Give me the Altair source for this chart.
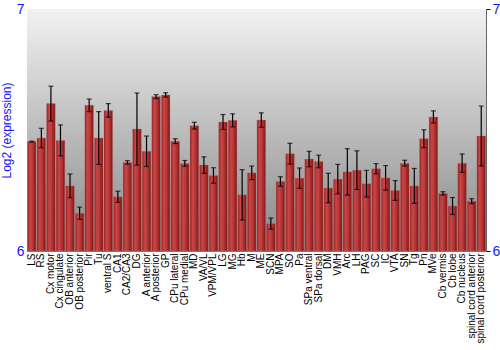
import altair as alt
import pandas as pd

regions = ["LS", "RS", "Cx motor", "Cx cingulate", "OB anterior", "OB posterior", "Pir", "Tu",
           "ventral S", "CA1", "CA2/CA3", "DG", "A anterior", "A posterior", "GP", "CPu lateral",
           "CPu medial", "MD", "VA/VL", "VPM/VPL", "LG", "MG", "Hb", "M", "ME", "SCN", "MPA", "SO",
           "Pa", "SPa ventral", "SPa dorsal", "DM", "VMH", "Arc", "LH", "PAG", "SC", "IC", "VTA",
           "SN", "Tg", "Pn", "MVe", "Cb vermis", "Cb lobe", "Cb nucleus", "spinal cord anterior",
           "spinal cord posterior"]
values = [6.452, 6.467, 6.609, 6.457, 6.269, 6.156, 6.602, 6.467,
          6.581, 6.224, 6.366, 6.504, 6.412, 6.638, 6.645, 6.454,
          6.362, 6.518, 6.355, 6.312, 6.533, 6.540, 6.232, 6.323, 6.541, 6.113, 6.287, 6.402,
          6.301, 6.380, 6.370, 6.260, 6.297, 6.327, 6.334, 6.278, 6.340, 6.302, 6.250,
          6.363, 6.269, 6.464, 6.554, 6.238, 6.186, 6.363, 6.206,
          6.475]
errors = [0.002, 0.040, 0.072, 0.064, 0.049, 0.025, 0.026, 0.109,
          0.028, 0.023, 0.007, 0.149, 0.063, 0.008, 0.009, 0.010,
          0.012, 0.014, 0.034, 0.032, 0.031, 0.027, 0.104, 0.028, 0.030, 0.023, 0.020, 0.043,
          0.042, 0.032, 0.026, 0.061, 0.061, 0.096, 0.080, 0.055, 0.021, 0.051, 0.041,
          0.012, 0.072, 0.037, 0.025, 0.007, 0.035, 0.038, 0.010,
          0.124]

df = pd.DataFrame({"region": regions, "value": values, "err": errors})
df["lo"] = df["value"] - df["err"]
df["hi"] = df["value"] + df["err"]

W, H = 459, 242
BLUE = "#1414ff"
yscale = alt.Scale(domain=[6, 7], nice=False, zero=False)
xenc = alt.X("region:N", sort=regions, scale=alt.Scale(paddingInner=0.1, paddingOuter=0.05),
             axis=alt.Axis(title=None, labelAngle=-90, labelFontSize=10, labelFont="Liberation Sans",
                           labelColor="black", ticks=False, domain=False, labelPadding=2))

bg = alt.Chart(pd.DataFrame({"a": [0]})).mark_rect(
    color=alt.Gradient(gradient="linear", x1=0, x2=0, y1=0, y2=1,
                       stops=[alt.GradientStop(color="#f2f2f2", offset=0),
                              alt.GradientStop(color="#878787", offset=1)])
).encode(x=alt.value(0), x2=alt.value(W), y=alt.value(0), y2=alt.value(H))

bars = alt.Chart(df).mark_bar(
    color=alt.Gradient(gradient="linear", x1=0, x2=1, y1=0, y2=0,
                       stops=[alt.GradientStop(color="#8e2222", offset=0),
                              alt.GradientStop(color="#cc4646", offset=0.3),
                              alt.GradientStop(color="#b83636", offset=0.6),
                              alt.GradientStop(color="#7a1616", offset=1)]),
    stroke="#d07070", strokeWidth=0.5, strokeOpacity=0.6
).encode(
    x=xenc,
    y=alt.Y("value:Q", scale=yscale,
            axis=alt.Axis(title="Log2 (expression)", orient="left", values=[6, 7], format="d",
                          labelColor=BLUE, labelFontSize=14, labelFont="Liberation Sans",
                          titleColor=BLUE, titleFontSize=12, titleFont="Liberation Sans",
                          titleFontWeight="normal", titlePadding=3, ticks=False,
                          labelPadding=3, domainColor="#666666", grid=False)),
    y2=alt.datum(6),
)

rules = alt.Chart(df).mark_rule(color="black", strokeWidth=1.2).encode(
    x=alt.X("region:N", sort=regions), y=alt.Y("lo:Q", scale=yscale, axis=None), y2="hi:Q")
caps_lo = alt.Chart(df).mark_tick(color="black", thickness=1.2, size=5, orient="horizontal").encode(
    x=alt.X("region:N", sort=regions), y=alt.Y("lo:Q", scale=yscale, axis=None))
caps_hi = alt.Chart(df).mark_tick(color="black", thickness=1.2, size=5, orient="horizontal").encode(
    x=alt.X("region:N", sort=regions), y=alt.Y("hi:Q", scale=yscale, axis=None))

right = alt.Chart(pd.DataFrame({"v": [6, 7]})).mark_point(opacity=0).encode(
    y=alt.Y("v:Q", scale=yscale,
            axis=alt.Axis(title=None, orient="right", values=[6, 7], format="d",
                          labelColor=BLUE, labelFontSize=14, labelFont="Liberation Sans",
                          ticks=True, tickSize=4, tickColor="black", labelPadding=2,
                          domainColor="#666666", grid=False)))

chart = alt.layer(bg, bars, rules, caps_lo, caps_hi, right).resolve_axis(y="independent").properties(
    width=W, height=H,
    autosize=alt.AutoSizeParams(type="none"),
    padding={"left": 27, "top": 9, "right": 14, "bottom": 99},
    background="white",
).configure_view(stroke="#777777", strokeWidth=1)

chart.save("out.html", embed_options={"renderer": "svg", "actions": False})
